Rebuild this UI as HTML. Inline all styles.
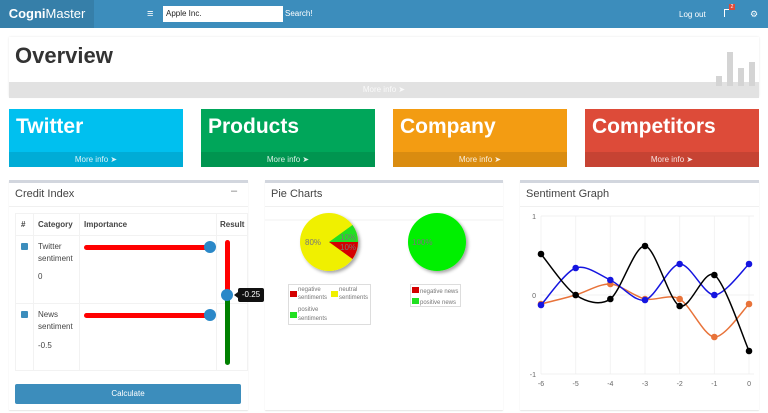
<!DOCTYPE html>
<html><head><meta charset="utf-8"><style>
*{box-sizing:border-box;margin:0;padding:0}
body{width:768px;height:413px;overflow:hidden;background:#fff;font-family:"Liberation Sans","DejaVu Sans",sans-serif;position:relative}
.a{position:absolute}
.nav{left:0;top:0;width:768px;height:28px;background:#3c8dbc}
.logo{left:0;top:0;width:94px;height:28px;background:#367fa9;color:#fff;font-size:13px;text-align:center;line-height:28px}
.tile{top:109px;width:174px;height:58px;color:#fff}
.tile .t{position:absolute;left:7px;top:6px;font-size:21px;font-weight:bold}
.tile .f{position:absolute;left:0;bottom:0;width:100%;height:15px;background:rgba(0,0,0,.1);font-size:8px;text-align:center;line-height:15px;color:rgba(255,255,255,.85)}
.panel{top:180px;height:230px;border-top:3px solid #d2d6de;background:#fff;box-shadow:0 1px 1px rgba(0,0,0,.1)}
.ph{position:absolute;left:6px;top:5px;font-size:11px;color:#444}
.sm{font-size:8px;color:#444}
</style></head><body>
<div class="a nav"></div>
<div class="a logo"><b>Cogni</b>Master</div>
<div class="a" style="left:147px;top:8px;color:#fff;font-size:11px">&#8801;</div>
<div class="a" style="left:163px;top:6px;width:120px;height:16px;background:#fff;font-size:8px;line-height:16px;padding-left:3px;color:#222">Apple Inc.</div>
<div class="a" style="left:285px;top:9px;color:#fff;font-size:8px">Search!</div>
<div class="a" style="left:679px;top:10px;color:#fff;font-size:8px">Log out</div>
<div class="a" style="left:724px;top:9px;width:7px;height:8px;border-left:1.5px solid #fff;border-top:1.5px solid #fff"></div>
<div class="a" style="left:729px;top:4px;width:6px;height:6px;background:#dd4b39;font-size:5px;color:#fff;text-align:center">2</div>
<div class="a" style="left:750px;top:9px;color:#fff;font-size:9px">&#9881;</div>

<div class="a" style="left:9px;top:37px;width:750px;height:60px;background:#fff;box-shadow:0 0 2px rgba(0,0,0,.1)"></div>
<div class="a" style="left:15px;top:43px;font-size:22px;font-weight:bold;color:#333">Overview</div>
<div class="a" style="left:9px;top:82px;width:750px;height:16px;background:#e2e2e2;text-align:center;font-size:8px;line-height:16px;color:#fafafa">More info &#10148;</div>
<div class="a" style="left:716px;top:76px;width:6px;height:10px;background:#d4d4d4"></div>
<div class="a" style="left:727px;top:52px;width:6px;height:34px;background:#d4d4d4"></div>
<div class="a" style="left:738px;top:68px;width:6px;height:18px;background:#d4d4d4"></div>
<div class="a" style="left:749px;top:62px;width:6px;height:24px;background:#d4d4d4"></div>

<div class="a tile" style="left:9px;background:#00c0ef"><div class="t">Twitter</div><div class="f">More info &#10148;</div></div>
<div class="a tile" style="left:201px;background:#00a65a"><div class="t">Products</div><div class="f">More info &#10148;</div></div>
<div class="a tile" style="left:393px;background:#f39c12"><div class="t">Company</div><div class="f">More info &#10148;</div></div>
<div class="a tile" style="left:585px;background:#dd4b39"><div class="t">Competitors</div><div class="f">More info &#10148;</div></div>

<div class="a panel" style="left:9px;width:239px"><div class="ph">Credit Index</div><div class="a" style="left:222px;top:2px;font-size:11px;color:#777">&#8211;</div>
<div class="a" style="left:0;top:23px;width:239px;border-top:1px solid #f0f0f0"></div></div>
<div class="a panel" style="left:265px;width:238px"><div class="ph">Pie Charts</div><div class="a" style="left:0;top:23px;width:238px;border-top:1px solid #f0f0f0"></div></div>
<div class="a panel" style="left:520px;width:239px"><div class="ph">Sentiment Graph</div><div class="a" style="left:0;top:23px;width:239px;border-top:1px solid #f0f0f0"></div></div>

<!-- table -->
<div class="a" style="left:15px;top:213px;width:233px;height:158px;border:1px solid #f2f2f2"></div>
<div class="a" style="left:15px;top:235px;width:233px;border-top:1px solid #f2f2f2"></div>
<div class="a" style="left:15px;top:303px;width:233px;border-top:1px solid #f2f2f2"></div>
<div class="a" style="left:33px;top:213px;height:158px;border-left:1px solid #f2f2f2"></div>
<div class="a" style="left:79px;top:213px;height:158px;border-left:1px solid #f2f2f2"></div>
<div class="a" style="left:216px;top:213px;height:158px;border-left:1px solid #f2f2f2"></div>
<div class="a sm" style="left:21px;top:220px;font-weight:bold">#</div>
<div class="a sm" style="left:38px;top:220px;font-weight:bold">Category</div>
<div class="a sm" style="left:84px;top:220px;font-weight:bold">Importance</div>
<div class="a sm" style="left:220px;top:220px;font-weight:bold">Result</div>
<div class="a" style="left:21px;top:243px;width:7px;height:7px;background:#3c8dbc;border-radius:1px"></div>
<div class="a" style="left:21px;top:311px;width:7px;height:7px;background:#3c8dbc;border-radius:1px"></div>
<div class="a sm" style="left:38px;top:241px;line-height:12px">Twitter<br>sentiment</div>
<div class="a sm" style="left:38px;top:272px">0</div>
<div class="a sm" style="left:38px;top:309px;line-height:12px">News<br>sentiment</div>
<div class="a sm" style="left:38px;top:341px">-0.5</div>
<div class="a" style="left:84px;top:245px;width:126px;height:5px;background:#f00;border-radius:3px"></div>
<div class="a" style="left:204px;top:241px;width:12px;height:12px;background:#2b88c8;border-radius:50%"></div>
<div class="a" style="left:84px;top:313px;width:126px;height:5px;background:#f00;border-radius:3px"></div>
<div class="a" style="left:204px;top:309px;width:12px;height:12px;background:#2b88c8;border-radius:50%"></div>
<div class="a" style="left:225px;top:240px;width:5px;height:56px;background:#f00;border-radius:3px 3px 0 0"></div>
<div class="a" style="left:225px;top:295px;width:5px;height:70px;background:#008000;border-radius:0 0 3px 3px"></div>
<div class="a" style="left:221px;top:289px;width:12px;height:12px;background:#2b88c8;border-radius:50%"></div>
<div class="a" style="left:238px;top:288px;width:26px;height:14px;background:#111;border-radius:2px;color:#fff;font-size:8px;line-height:14px;text-align:center">-0.25</div>
<div class="a" style="left:234px;top:292px;border:3px solid transparent;border-right:4px solid #111;border-left:0"></div>
<div class="a" style="left:15px;top:384px;width:226px;height:20px;background:#3c8dbc;border-radius:2px;color:#fff;font-size:8px;text-align:center;line-height:20px">Calculate</div>

<!-- pies -->
<svg class="a" style="left:265px;top:200px" width="238" height="130">
<defs><filter id="s"><feDropShadow dx="2" dy="2" stdDeviation="1.5" flood-opacity=".35"/></filter></defs>
<line x1="0" y1="20" x2="238" y2="20" stroke="#f2f2f2"/>
<g filter="url(#s)">
<circle cx="64" cy="42" r="29" fill="#f0f000"/>
<path d="M64 42 L93 42 A29 29 0 0 1 87.5 59 Z" fill="#d40000"/>
<path d="M64 42 L93 42 A29 29 0 0 0 87.5 25 Z" fill="#20e020"/>
<circle cx="172" cy="42" r="29" fill="#00f000"/>
</g>
<g font-size="8" fill="#777" font-family="Liberation Sans,sans-serif">
<text x="40" y="45">80%</text><text x="75" y="40">10%</text><text x="75" y="50">10%</text><text x="147" y="45">100%</text></g>
<rect x="23.5" y="84.5" width="82" height="40" fill="#fff" stroke="#ddd"/>
<g font-size="6" fill="#777" font-family="Liberation Sans,sans-serif">
<rect x="25" y="91" width="7" height="6" fill="#d40000"/><text x="33" y="91">negative</text><text x="33" y="99">sentiments</text>
<rect x="66" y="91" width="7" height="6" fill="#f0f000"/><text x="74" y="91">neutral</text><text x="74" y="99">sentiments</text>
<rect x="25" y="112" width="7" height="6" fill="#20e020"/><text x="33" y="111">positive</text><text x="33" y="120">sentiments</text>
<rect x="145.5" y="84.5" width="50" height="22" fill="#fff" stroke="#ddd"/>
<rect x="147" y="87" width="7" height="6" fill="#d40000"/><text x="155" y="93">negative news</text>
<rect x="147" y="98" width="7" height="6" fill="#20e020"/><text x="155" y="104">positive news</text>
</g></svg>

<!-- line chart -->
<svg class="a" id="lc" style="left:520px;top:200px" width="239" height="190" font-family="Liberation Sans,sans-serif"></svg>
<script>
var s=document.getElementById('lc'),ox=520,oy=200,h='';
function X(i){return 541+i*34.67-ox}
function Y(v){return v-oy}
for(var i=0;i<7;i++)h+='<line x1="'+X(i)+'" y1="16" x2="'+X(i)+'" y2="174" stroke="#f3f3f3"/><text x="'+X(i)+'" y="186" font-size="7" fill="#666" text-anchor="middle">'+(i-6)+'</text>';
[[216,'1'],[295,'0'],[374,'-1']].forEach(function(a){h+='<line x1="21" y1="'+Y(a[0])+'" x2="234" y2="'+Y(a[0])+'" stroke="#f0f0f0"/><text x="16" y="'+(Y(a[0])+3)+'" font-size="7" fill="#666" text-anchor="end">'+a[1]+'</text>'});
var d=[['#e8733a',[304,295,284,299,299,337,304]],['#1515e0',[305,268,280,300,264,295,264]],['#000',[254,295,299,246,306,275,351]]];
d.forEach(function(r){var p=r[1].map(function(v,i){return [X(i),Y(v)]});var path='M'+p[0];
for(var i=0;i<p.length-1;i++){var p0=p[i-1]||p[i],p1=p[i],p2=p[i+1],p3=p[i+2]||p2,t=0.3;
path+=' C'+(p1[0]+(p2[0]-p0[0])*t/2)+' '+(p1[1]+(p2[1]-p0[1])*t/2)+' '+(p2[0]-(p3[0]-p1[0])*t/2)+' '+(p2[1]-(p3[1]-p1[1])*t/2)+' '+p2[0]+' '+p2[1];}
h+='<path d="'+path+'" fill="none" stroke="'+r[0]+'" stroke-width="1.5"/>';
p.forEach(function(q){h+='<circle cx="'+q[0]+'" cy="'+q[1]+'" r="3.3" fill="'+r[0]+'"/>'})});
s.innerHTML=h;
</script>
</body></html>
